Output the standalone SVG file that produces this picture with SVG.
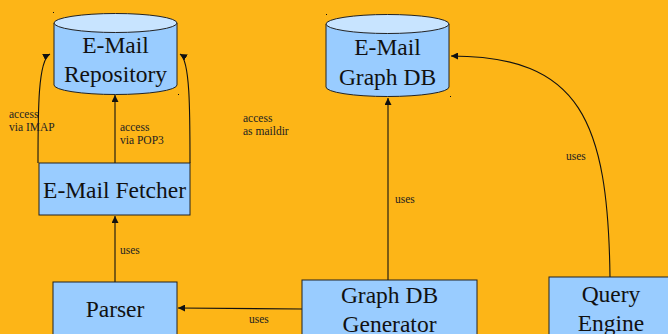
<svg xmlns="http://www.w3.org/2000/svg" width="668" height="334" viewBox="0 0 668 334">
<defs>
<style>
.box{fill:#99ccff;stroke:#222;stroke-width:1}
.top{fill:#c8e4ff;stroke:#222;stroke-width:1}
.t{font-size:23.5px;fill:#111;text-anchor:middle}
.l{font-size:11.5px;fill:#222}
.c{fill:none;stroke:#111;stroke-width:1.1}
</style>
<marker id="ah" viewBox="0 0 10 10" refX="10" refY="5" markerWidth="7" markerHeight="7" markerUnits="userSpaceOnUse" orient="auto">
<path d="M0,0 L10,5 L0,10 z" fill="#111"/>
</marker>
</defs>
<rect width="668" height="334" fill="#fdb517"/>
<g id="connectors" font-family="Liberation Serif, Times New Roman, DejaVu Serif, serif">
<path class="c" d="M38,163 C38,110 38,60 50,54" marker-end="url(#ah)"/>
<path class="c" d="M115,163 L115,95" marker-end="url(#ah)"/>
<path class="c" d="M190,163 C190,110 190,60 180,54" marker-end="url(#ah)"/>
<path class="c" d="M115,282 L115,216" marker-end="url(#ah)"/>
<path class="c" d="M302,309 L178,308" marker-end="url(#ah)"/>
<path class="c" d="M388,280 L388,98" marker-end="url(#ah)"/>
<path class="c" d="M610,277 C608,120 580,56 451,56" marker-end="url(#ah)"/>
<text class="l" x="9" y="118">access</text>
<text class="l" x="9" y="131">via IMAP</text>
<text class="l" x="120" y="131">access</text>
<text class="l" x="120" y="144">via POP3</text>
<text class="l" x="243" y="122">access</text>
<text class="l" x="243" y="135">as maildir</text>
<text class="l" x="120" y="254">uses</text>
<text class="l" x="395" y="203">uses</text>
<text class="l" x="566" y="160">uses</text>
<text class="l" x="249" y="323">uses</text>
</g>
<g id="nodes" font-family="Liberation Serif, Times New Roman, DejaVu Serif, serif">
<g id="email-repository">
<path class="box" d="M54,23 L54,85 A61.5,9.5 0 0 0 177,85 L177,23"/>
<ellipse class="top" cx="115.5" cy="23" rx="61.5" ry="9.5"/>
<text class="t" x="115.5" y="53">E-Mail</text>
<text class="t" x="115.5" y="82">Repository</text>
<rect x="53" y="12" width="1" height="1" fill="#111"/>
<rect x="178" y="94" width="1" height="1" fill="#111"/>
</g>
<g id="email-graph-db">
<path class="box" d="M326,24 L326,87 A61.5,9.5 0 0 0 449,87 L449,24"/>
<ellipse class="top" cx="387.5" cy="24" rx="61.5" ry="9.5"/>
<text class="t" x="387.5" y="55">E-Mail</text>
<text class="t" x="387.5" y="85">Graph DB</text>
<rect x="326" y="14" width="1" height="1" fill="#111"/>
<rect x="450" y="96" width="1" height="1" fill="#111"/>
</g>
<g id="email-fetcher">
<rect class="box" x="39" y="163" width="151" height="52"/>
<text class="t" x="114.5" y="198">E-Mail Fetcher</text>
</g>
<g id="parser">
<rect class="box" x="53" y="282" width="124" height="60"/>
<text class="t" x="115" y="317">Parser</text>
</g>
<g id="graph-db-generator">
<rect class="box" x="302" y="280" width="175" height="60"/>
<text class="t" x="389.5" y="303">Graph DB</text>
<text class="t" x="389.5" y="332">Generator</text>
</g>
<g id="query-engine">
<rect class="box" x="549" y="277" width="125" height="65"/>
<text class="t" x="611" y="302">Query</text>
<text class="t" x="611" y="331">Engine</text>
</g>
</g>
</svg>
